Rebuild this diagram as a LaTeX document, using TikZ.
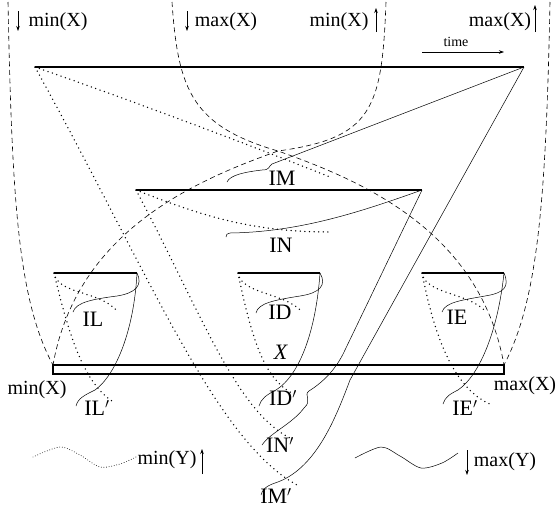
\documentclass[tikz,border=0pt]{standalone}
\usepackage{fontspec}
\setmainfont{Liberation Serif}
\usetikzlibrary{arrows.meta}
\begin{document}
\begin{tikzpicture}[x=1pt,y=-1pt,
  bar/.style={line width=2.4pt},
  dashcurve/.style={line width=0.6pt, dash pattern=on 5pt off 3.5pt},
  dotline/.style={line width=1.5pt, line cap=round, dash pattern=on 0pt off 4.6pt},
  smalldot/.style={line width=0.9pt, line cap=round, dash pattern=on 0pt off 2.6pt},
  thinline/.style={line width=0.5pt},
  lbl/.style={inner sep=0pt, font=\fontsize{22}{24}\selectfont},
  axl/.style={inner sep=0pt, font=\fontsize{20}{22}\selectfont},
  arr/.style={line width=0.6pt, -{Stealth[length=5pt,width=3.5pt]}}]
\useasboundingbox (0,0) rectangle (558,507);
% bar ends
\coordinate (TL) at (35,67);  \coordinate (TR) at (524,67);
\coordinate (ML) at (136,190); \coordinate (MR) at (422,190);
\coordinate (LL) at (54,273); \coordinate (LR) at (137,273);
\coordinate (DL) at (238,273); \coordinate (DR) at (320,273);
\coordinate (EL) at (422,273); \coordinate (ER) at (504,273);
\coordinate (XL) at (53,365); \coordinate (XR) at (504,365);
% dashed bounds
\coordinate (ol) at (8,2); \coordinate (or) at (550,2);
\coordinate (mx) at (172,2); \coordinate (mn) at (386,2);
\coordinate (cr) at (278,151);
\draw[dashcurve] (ol) .. controls (12,200) and (18,300) .. (XL);
\draw[dashcurve] (or) .. controls (546,200) and (538,300) .. (XR);
\draw[dashcurve] (mx) .. controls (178,90) and (192,126) .. (cr) .. controls (360,180) and (480,230) .. (XR);
\draw[dashcurve] (mn) .. controls (382,110) and (372,138) .. (cr) .. controls (197,180) and (77,230) .. (XL);
% dotted lines (left ends)
\draw[dotline] (TL) .. controls (130,100) and (250,145) .. (330,177);
\draw[dotline] (TL) .. controls (150,275) and (215,440) .. (297,485);
\draw[dotline] (ML) .. controls (200,215) and (250,232) .. (330,232);
\draw[dotline] (ML) .. controls (200,310) and (235,410) .. (290,438);
\draw[dotline] (DL) .. controls (242,295) and (285,292) .. (302,312);
\draw[dotline] (DL) .. controls (250,330) and (262,378) .. (292,393);
\draw[dotline] (LL) .. controls (58,295) and (100,290) .. (118,312);
\draw[dotline] (LL) .. controls (70,340) and (85,385) .. (115,403);
\draw[dotline] (EL) .. controls (426,295) and (469,292) .. (486,312);
\draw[dotline] (EL) .. controls (435,340) and (455,390) .. (492,405);
% solid thin lines (right ends)
\draw[thinline] (TR) -- (272,164) .. controls (268,167) and (270,170) .. (262,170) .. controls (245,172) and (230,175) .. (227,182);
\draw[thinline] (TR) -- (350,380) .. controls (335,420) and (315,470) .. (275,483) .. controls (266,486) and (262,490) .. (261,495);
\draw[thinline] (MR) .. controls (360,212) and (300,232) .. (230,233) .. controls (227,233) and (226,235) .. (226,237);
\draw[thinline] (MR) -- (345,350) .. controls (335,372) and (320,384) .. (309,391) .. controls (303,395) and (313,400) .. (304,408) .. controls (292,424) and (270,433) .. (262,445);
\draw[thinline] (DR) .. controls (327,285) and (320,293) .. (300,296) .. controls (275,300) and (258,303) .. (256,313);
\draw[thinline] (DR) .. controls (316,330) and (300,375) .. (276,390) .. controls (266,395) and (261,399) .. (259,406);
\draw[thinline] (LR) .. controls (143,285) and (136,293) .. (117,296) .. controls (94,299) and (76,302) .. (73,312);
\draw[thinline] (LR) .. controls (134,330) and (116,375) .. (95,390) .. controls (85,395) and (78,398) .. (76,406);
\draw[thinline] (ER) .. controls (510,287) and (504,293) .. (485,296) .. controls (463,300) and (445,302) .. (442,312);
\draw[thinline] (ER) .. controls (498,330) and (480,375) .. (458,390) .. controls (450,394) and (445,397) .. (443,404);
% waves
\draw[smalldot] plot[smooth] coordinates {(33,457) (60,447) (80,455) (100,467) (120,464) (136,457)};
\draw[thinline] plot[smooth] coordinates {(355,458) (381,447) (400,456) (421,468) (442,463) (458,453)};
% bars
\draw[bar] (TL) -- (TR);
\draw[bar] (ML) -- (MR);
\draw[bar] (LL) -- (LR);
\draw[bar] (DL) -- (DR);
\draw[bar] (EL) -- (ER);
\draw[line width=2pt] (XL) rectangle (504,374);
% labels
\node[lbl] (IM) at (282,178) {IM};
\node[lbl] (IN) at (281,245) {IN};
\node[lbl] (IL) at (93,319) {IL};
\node[lbl] (ID) at (280,312) {ID};
\node[lbl] (IE) at (457,317) {IE};
\node[lbl] (Xl) at (281,352) {\textit{X}};
\node[lbl] (IDp) at (283,398) {ID$'$};
\node[lbl] (INp) at (280,445) {IN$'$};
\node[lbl] (IMp) at (276,496) {IM$'$};
\node[lbl] (ILp) at (97,408) {IL$'$};
\node[lbl] (IEp) at (465,408) {IE$'$};
\node[axl] (minXb) at (37,390) {min(X)};
\node[axl] (maxXb) at (525,386) {max(X)};
\node[axl] (minXt) at (58,22) {min(X)};
\node[axl] (maxXt) at (226,22) {max(X)};
\node[axl] (minXu) at (339,22) {min(X)};
\node[axl] (maxXu) at (500,22) {max(X)};
\node[axl] (minY) at (167,460) {min(Y)};
\node[axl] (maxY) at (505,462) {max(Y)};
\node[inner sep=0pt, font=\fontsize{14}{16}\selectfont] (time) at (456,42) {time};
% arrows
\coordinate (a1s) at (18,11); \coordinate (a1e) at (18,31);
\coordinate (a2s) at (187,11); \coordinate (a2e) at (187,31);
\coordinate (a3s) at (376,32); \coordinate (a3e) at (376,8);
\coordinate (a4s) at (535,32); \coordinate (a4e) at (535,5);
\coordinate (a5s) at (202,474); \coordinate (a5e) at (202,449);
\coordinate (a6s) at (467,450); \coordinate (a6e) at (467,475);
\coordinate (a7s) at (422,52); \coordinate (a7e) at (504,52);
\draw[arr] (a1s) -- (a1e);
\draw[arr] (a2s) -- (a2e);
\draw[arr] (a3s) -- (a3e);
\draw[arr] (a4s) -- (a4e);
\draw[arr] (a5s) -- (a5e);
\draw[arr] (a6s) -- (a6e);
\draw[arr] (a7s) -- (a7e);
\end{tikzpicture}
\end{document}
